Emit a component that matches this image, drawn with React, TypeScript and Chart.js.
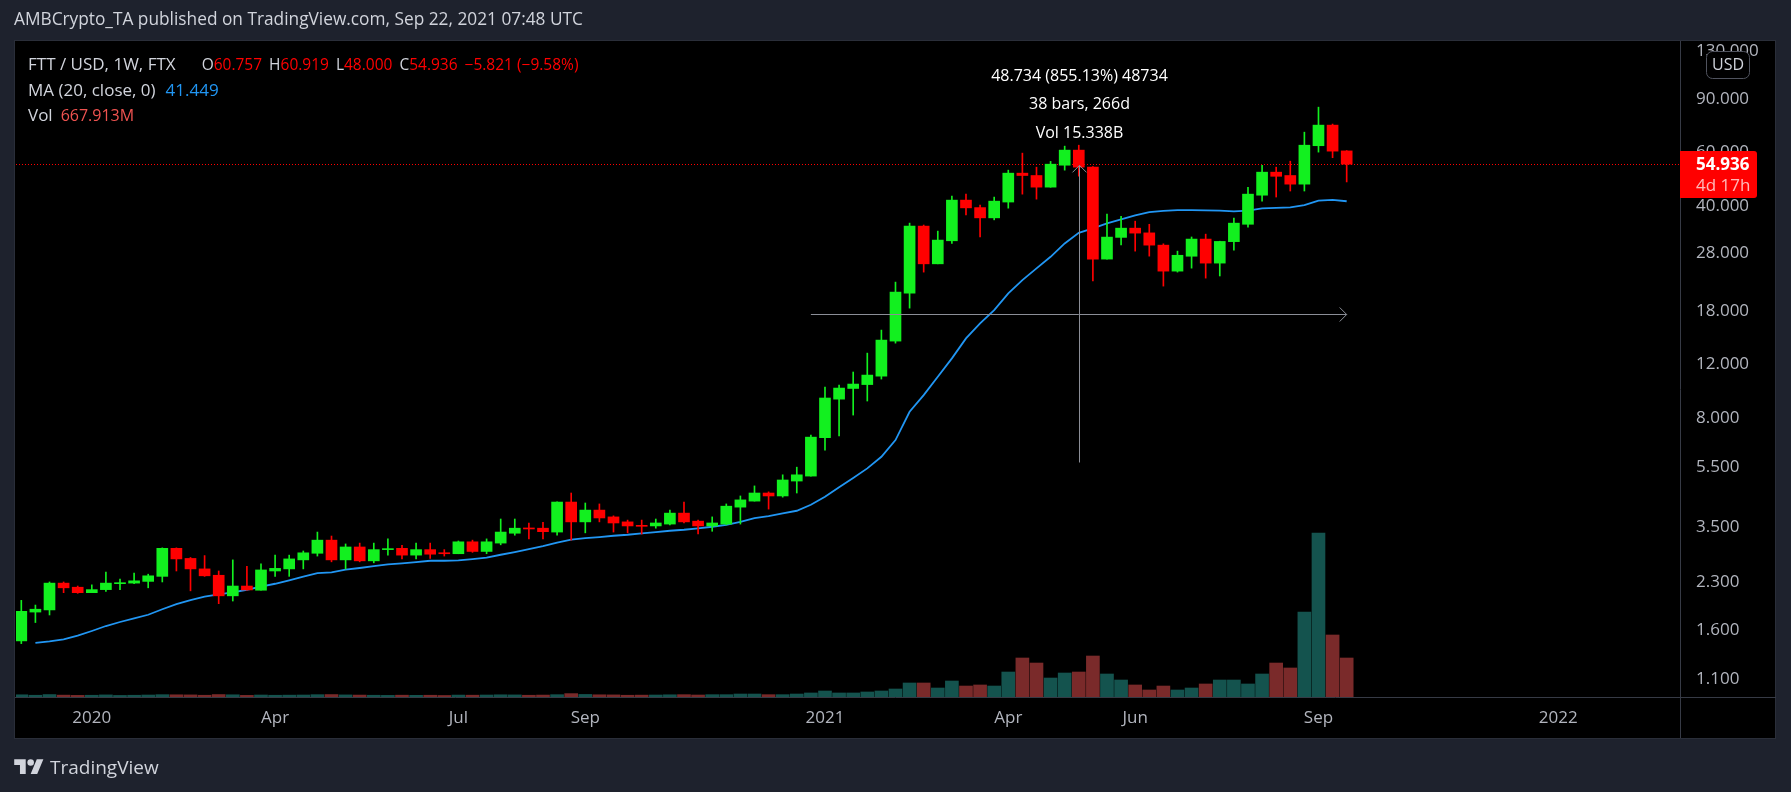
import React, { useEffect, useRef } from 'react';
import { Chart, registerables } from 'chart.js';

Chart.register(...registerables);

// ---- data (weekly candles FTT/USD, FTX, first week starting 2019-12-02) ----
const opens = [
  1.47, 1.83, 1.86, 2.28, 2.21, 2.12, 2.17, 2.27, 2.28, 2.31,
  2.40, 2.97, 2.75, 2.54, 2.42, 2.07, 2.23, 2.16, 2.50, 2.54,
  2.72, 2.86, 3.16, 2.72, 3.00, 2.70, 2.94, 2.97, 2.82, 2.94,
  2.86, 2.85, 3.12, 2.90, 3.09, 3.33, 3.46, 3.46, 3.36, 4.22,
  3.63, 3.97, 3.77, 3.63, 3.53, 3.52, 3.57, 3.88, 3.65, 3.52,
  3.57, 4.06, 4.25, 4.52, 4.42, 4.95, 5.14, 6.88, 9.22, 10.0,
  10.3, 10.98, 14.33, 20.63, 34.32, 25.77, 30.7, 41.81, 39.5, 36.54,
  41.2, 51.31, 50.4, 46.14, 54.5, 61.12, 53.7, 26.71, 31.5, 33.79,
  32.6, 29.70, 24.38, 27.3, 31.1, 25.91, 30.5, 34.8, 43.4, 51.7,
  50.4, 47.2, 63.2, 73.9, 60.757,
];
const highs = [
  2.00, 1.93, 2.30, 2.30, 2.23, 2.25, 2.48, 2.35, 2.46, 2.44,
  2.98, 2.98, 2.77, 2.81, 2.50, 2.72, 2.59, 2.64, 2.82, 2.82,
  2.91, 3.36, 3.26, 3.07, 3.09, 3.09, 3.19, 3.04, 3.09, 3.09,
  2.94, 3.14, 3.16, 3.19, 3.71, 3.71, 3.60, 3.62, 4.23, 4.52,
  4.19, 4.16, 3.80, 3.68, 3.68, 3.71, 3.97, 4.22, 3.68, 3.77,
  4.16, 4.42, 4.77, 4.56, 5.19, 5.50, 7.02, 10.11, 10.27, 11.33,
  13.08, 15.58, 22.43, 35.11, 34.6, 33.04, 43.09, 43.75, 40.25, 42.78,
  52.5, 59.74, 53.7, 56.1, 63.0, 63.45, 53.9, 37.58, 37.0, 35.63,
  34.8, 30.0, 28.38, 31.6, 32.29, 30.6, 36.46, 46.1, 54.5, 53.7,
  56.2, 70.05, 84.7, 74.5, 60.919,
];
const lows = [
  1.44, 1.69, 1.79, 2.12, 2.11, 2.12, 2.14, 2.17, 2.27, 2.20,
  2.30, 2.50, 2.15, 2.40, 1.95, 1.99, 2.16, 2.16, 2.40, 2.40,
  2.54, 2.80, 2.68, 2.54, 2.68, 2.66, 2.82, 2.74, 2.74, 2.75,
  2.80, 2.85, 2.88, 2.85, 3.05, 3.28, 3.19, 3.19, 3.28, 3.16,
  3.34, 3.63, 3.36, 3.34, 3.31, 3.46, 3.55, 3.60, 3.31, 3.38,
  3.55, 3.57, 4.25, 4.00, 4.38, 4.52, 5.14, 6.26, 6.97, 8.17,
  9.09, 10.74, 14.11, 18.41, 24.20, 25.77, 30.1, 37.38, 31.64, 35.99,
  39.33, 43.75, 42.12, 46.1, 52.5, 50.15, 22.65, 26.71, 29.77, 28.38,
  27.32, 21.76, 24.2, 24.94, 23.12, 23.5, 28.6, 34.05, 41.5, 42.8,
  44.8, 44.8, 60.2, 57.7, 48.0,
];
const closes = [
  1.84, 1.87, 2.28, 2.20, 2.12, 2.17, 2.28, 2.285, 2.32, 2.41,
  2.97, 2.74, 2.54, 2.41, 2.07, 2.23, 2.165, 2.52, 2.55, 2.74,
  2.87, 3.16, 2.72, 3.00, 2.70, 2.94, 2.96, 2.82, 2.94, 2.84,
  2.85, 3.12, 2.90, 3.12, 3.36, 3.46, 3.44, 3.37, 4.22, 3.63,
  3.97, 3.74, 3.60, 3.52, 3.51, 3.60, 3.88, 3.63, 3.52, 3.60,
  4.09, 4.29, 4.52, 4.42, 4.99, 5.19, 6.91, 9.30, 10.03, 10.34,
  11.07, 14.44, 20.79, 34.32, 25.77, 30.86, 41.81, 39.42, 36.54, 41.48,
  51.31, 50.4, 46.14, 54.93, 61.12, 53.7, 26.71, 31.57, 33.79, 32.54,
  29.70, 24.38, 27.5, 31.1, 25.91, 30.55, 35.1, 43.75, 51.7, 50.1,
  47.2, 63.45, 73.9, 60.65, 54.936,
];
// weekly volume, millions USD
const volumesM = [
  38, 30, 42, 32, 28, 30, 36, 27, 30, 34,
  40, 38, 36, 30, 42, 38, 28, 34, 30, 32,
  34, 40, 42, 36, 33, 30, 28, 31, 29, 30,
  26, 33, 31, 34, 38, 36, 30, 33, 40, 58,
  44, 38, 36, 30, 32, 34, 38, 40, 34, 40,
  40, 51, 51, 40, 40, 51, 69, 103, 69, 69,
  86, 103, 137, 240, 240, 154, 274, 188, 206, 188,
  428, 668, 582, 325, 411, 428, 702, 394, 291, 206,
  120, 188, 120, 154, 223, 291, 291, 223, 394, 582,
  497, 1456, 2809, 1062, 667.913,
];
// MA (20, close) as plotted
const ma20 = [
  null, 1.449, 1.465, 1.488, 1.529, 1.585, 1.646, 1.697, 1.745, 1.793,
  1.869, 1.945, 2.005, 2.056, 2.094, 2.126, 2.168, 2.218, 2.269, 2.329,
  2.393, 2.461, 2.474, 2.524, 2.557, 2.596, 2.630, 2.650, 2.676, 2.702,
  2.702, 2.710, 2.737, 2.765, 2.828, 2.887, 2.953, 3.021, 3.103, 3.170,
  3.210, 3.235, 3.267, 3.292, 3.327, 3.360, 3.394, 3.419, 3.456, 3.498,
  3.551, 3.633, 3.737, 3.795, 3.873, 3.950, 4.134, 4.393, 4.718, 5.063,
  5.450, 5.952, 6.758, 8.377, 9.510, 10.93, 12.57, 14.63, 16.39, 18.13,
  20.58, 22.77, 24.89, 27.18, 30.09, 32.61, 33.72, 35.02, 36.10, 37.21,
  38.16, 38.54, 38.75, 38.75, 38.69, 38.60, 38.37, 38.60, 39.25, 39.40,
  39.55, 40.25, 41.65, 41.90, 41.449,
];
const priceTicks = [1.1, 1.6, 2.3, 3.5, 5.5, 8, 12, 18, 28, 40, 60, 90, 130];
const timeTickBars = [5, 18, 31, 40, 57, 70, 79, 92, 109];
const timeTickLabels = ['2020', 'Apr', 'Jul', 'Sep', '2021', 'Apr', 'Jun', 'Sep', '2022'];
const measureFromBar = 56;
const measureToBar = 94;
const measureFromPrice = 5.699;
const measureToPrice = 54.433;
const measureLabels = ['48.734 (855.13%) 48734', '38 bars, 266d', 'Vol 15.338B'];
const countdown = '4d 17h';

// ---- style ----
const FONT = "'Open Sans', 'Noto Sans', sans-serif";
const UP = '#12f01f';
const DOWN = '#ff0000';
const VOL_UP = '#14534e';
const VOL_DOWN = '#7a2a2a';
const MA_COLOR = '#2196f3';
const AXIS_TEXT = '#b2b5be';
const TEXT = '#d1d4dc';
const OUTER = '#1e222d';

const W = 1791;
const H = 792;

const last = closes.length - 1;
const isUp = (i: number) => closes[i] >= opens[i];

const decorPlugin = {
  id: 'tvDecor',
  beforeDraw(chart: any) {
    const { ctx, chartArea: ca } = chart;
    ctx.save();
    ctx.fillStyle = '#000000';
    ctx.fillRect(14, 40, 1762, 699);
    ctx.strokeStyle = '#2a2e39';
    ctx.lineWidth = 1;
    ctx.strokeRect(14.5, 40.5, 1761, 698);
    ctx.strokeStyle = '#363a45';
    ctx.beginPath();
    ctx.moveTo(Math.round(ca.right) + 0.5, 41);
    ctx.lineTo(Math.round(ca.right) + 0.5, 738);
    ctx.moveTo(15, Math.round(ca.bottom) + 0.5);
    ctx.lineTo(1776, Math.round(ca.bottom) + 0.5);
    ctx.stroke();
    ctx.restore();
  },
  beforeDatasetsDraw(chart: any) {
    const { ctx, chartArea: ca, scales } = chart;
    const y = Math.round(scales.y.getPixelForValue(closes[last])) + 0.5;
    ctx.save();
    ctx.strokeStyle = DOWN;
    ctx.lineWidth = 1;
    ctx.setLineDash([1, 2]);
    ctx.beginPath();
    ctx.moveTo(ca.left, y);
    ctx.lineTo(ca.right, y);
    ctx.stroke();
    ctx.restore();
  },
  afterDatasetsDraw(chart: any) {
    const { ctx, scales } = chart;
    const x1 = scales.x.getPixelForValue(measureFromBar);
    const x2 = scales.x.getPixelForValue(measureToBar);
    const xm = Math.round((x1 + x2) / 2) + 0.5;
    const yb = scales.y.getPixelForValue(measureFromPrice);
    const yt = scales.y.getPixelForValue(measureToPrice);
    const ym = Math.round((yb + yt) / 2) + 0.5;
    ctx.save();
    ctx.strokeStyle = '#8b8e97';
    ctx.lineWidth = 1;
    ctx.beginPath();
    ctx.moveTo(xm, yt);
    ctx.lineTo(xm, yb);
    ctx.moveTo(x1, ym);
    ctx.lineTo(x2, ym);
    ctx.moveTo(x2 - 7, ym - 7);
    ctx.lineTo(x2, ym);
    ctx.lineTo(x2 - 7, ym + 7);
    ctx.moveTo(xm - 7, yt + 7);
    ctx.lineTo(xm, yt);
    ctx.lineTo(xm + 7, yt + 7);
    ctx.stroke();
    ctx.fillStyle = '#ffffff';
    ctx.font = `16px ${FONT}`;
    ctx.textAlign = 'center';
    ctx.textBaseline = 'middle';
    const offs = [89, 61, 32];
    measureLabels.forEach((t, i) => ctx.fillText(t, xm, yt - offs[i]));
    ctx.restore();
  },
  afterDraw(chart: any) {
    const { ctx, chartArea: ca, scales } = chart;
    const y = scales.y.getPixelForValue(closes[last]);
    ctx.save();
    // last price badge
    ctx.fillStyle = DOWN;
    ctx.beginPath();
    ctx.roundRect(ca.right, Math.round(y) - 13, 77, 47, [0, 3, 3, 0]);
    ctx.fill();
    ctx.textAlign = 'left';
    ctx.textBaseline = 'middle';
    ctx.fillStyle = '#ffffff';
    ctx.font = `bold 17px ${FONT}`;
    ctx.fillText(closes[last].toFixed(3), ca.right + 16, y + 1);
    ctx.fillStyle = 'rgba(255,255,255,0.72)';
    ctx.font = `17px ${FONT}`;
    ctx.fillText(countdown, ca.right + 16, y + 22);
    // currency badge
    ctx.fillStyle = '#000000';
    ctx.strokeStyle = '#50535e';
    ctx.lineWidth = 1;
    ctx.beginPath();
    ctx.roundRect(ca.right + 26.5, 51.5, 43, 27, 6);
    ctx.fill();
    ctx.stroke();
    ctx.fillStyle = TEXT;
    ctx.font = `16px ${FONT}`;
    ctx.textAlign = 'center';
    ctx.fillText('USD', ca.right + 48, 65.5);
    ctx.restore();
  },
};

export default function App() {
  const ref = useRef<HTMLCanvasElement | null>(null);

  useEffect(() => {
    document.body.style.margin = '0';
    const canvas = ref.current;
    if (!canvas) return;
    const chart = new Chart(canvas, {
      type: 'bar',
      data: {
        datasets: [
          {
            type: 'bar',
            label: 'Vol',
            yAxisID: 'yv',
            data: volumesM.map((v, i) => ({ x: i, y: v })) as any,
            backgroundColor: volumesM.map((_, i) => (isUp(i) ? VOL_UP : VOL_DOWN)),
            barThickness: 13,
            grouped: false,
            borderWidth: 0,
            order: 10,
          } as any,
          {
            type: 'line',
            label: 'MA (20, close, 0)',
            yAxisID: 'y',
            data: ma20.map((v, i) => ({ x: i, y: v })) as any,
            borderColor: MA_COLOR,
            borderWidth: 1.8,
            pointRadius: 0,
            tension: 0,
            spanGaps: false,
            order: 8,
          } as any,
          {
            type: 'bar',
            label: 'wick',
            yAxisID: 'y',
            data: lows.map((l, i) => ({ x: i, y: [l, highs[i]] })) as any,
            backgroundColor: lows.map((_, i) => (isUp(i) ? UP : DOWN)),
            barThickness: 1,
            grouped: false,
            borderWidth: 0,
            minBarLength: 1,
            order: 2,
          } as any,
          {
            type: 'bar',
            label: 'FTT / USD',
            yAxisID: 'y',
            data: opens.map((o, i) => ({ x: i, y: [o, closes[i]] })) as any,
            backgroundColor: opens.map((_, i) => (isUp(i) ? UP : DOWN)),
            barThickness: 11,
            grouped: false,
            borderWidth: 0,
            minBarLength: 1,
            order: 1,
          } as any,
        ],
      },
      options: {
        responsive: false,
        devicePixelRatio: 1,
        animation: false,
        events: [],
        layout: { padding: { left: 16, right: 15, top: 41, bottom: 54 } },
        plugins: { legend: { display: false }, tooltip: { enabled: false } },
        scales: {
          x: {
            type: 'linear',
            offset: false,
            min: -0.376,
            max: 117.64,
            grid: { display: false, drawTicks: false, offset: false },
            border: { display: false },
            afterBuildTicks: (s: any) => {
              s.ticks = timeTickBars.map((v) => ({ value: v }));
            },
            afterFit: (s: any) => {
              s.height = 41;
            },
            ticks: {
              autoSkip: false,
              maxRotation: 0,
              padding: 11,
              color: AXIS_TEXT,
              font: { family: FONT, size: 17 },
              callback: (_v: any, idx: number) => timeTickLabels[idx] ?? '',
            },
          },
          y: {
            type: 'logarithmic',
            position: 'right',
            min: 0.96,
            max: 140,
            grid: { display: false, drawTicks: false },
            border: { display: false },
            afterBuildTicks: (s: any) => {
              s.ticks = priceTicks.map((v) => ({ value: v }));
            },
            afterFit: (s: any) => {
              s.width = 96;
            },
            ticks: {
              autoSkip: false,
              padding: 16,
              color: AXIS_TEXT,
              font: { family: FONT, size: 17 },
              callback: (v: any) => Number(v).toFixed(3),
            },
          },
          yv: {
            type: 'linear',
            display: false,
            min: 0,
            max: 11237,
          },
        },
      } as any,
      plugins: [decorPlugin],
    });
    return () => chart.destroy();
  }, []);

  const chg = closes[last] - opens[last];
  const pct = (chg / opens[last]) * 100;
  const sgn = (v: number) => (v < 0 ? '\u2212' : '+') + Math.abs(v).toFixed(3);
  const red = { color: DOWN };
  const row = { position: 'absolute' as const, left: 28, lineHeight: '22px', fontSize: 15.5, color: TEXT, whiteSpace: 'pre' as const };

  return (
    <div
      style={{
        position: 'fixed',
        left: 0,
        top: 0,
        width: W,
        height: H,
        background: OUTER,
        overflow: 'hidden',
        fontFamily: FONT,
      }}
    >
      <canvas ref={ref} width={W} height={H} style={{ position: 'absolute', left: 0, top: 0, width: W, height: H }} />
      <div style={{ position: 'absolute', left: 14, top: 8, lineHeight: '22px', fontSize: 17.3, color: TEXT, whiteSpace: 'pre' }}>
        AMBCrypto_TA published on TradingView.com, Sep 22, 2021 07:48 UTC
      </div>
      <div style={{ ...row, top: 53 }}>
        <span style={{ fontSize: 17 }}>FTT / USD, 1W, FTX</span>
        <span style={{ marginLeft: 26 }}>O</span>
        <span style={red}>{opens[last].toFixed(3)}</span>
        <span style={{ marginLeft: 7 }}>H</span>
        <span style={red}>{highs[last].toFixed(3)}</span>
        <span style={{ marginLeft: 7 }}>L</span>
        <span style={red}>{lows[last].toFixed(3)}</span>
        <span style={{ marginLeft: 7 }}>C</span>
        <span style={red}>{closes[last].toFixed(3)}</span>
        <span style={{ ...red, marginLeft: 7 }}>{sgn(chg)} ({(pct < 0 ? '\u2212' : '+') + Math.abs(pct).toFixed(2)}%)</span>
      </div>
      <div style={{ ...row, top: 79 }}>
        <span style={{ fontSize: 17 }}>MA (20, close, 0)</span>
        <span style={{ marginLeft: 10, color: MA_COLOR, fontSize: 17 }}>{(ma20[last] as number).toFixed(3)}</span>
      </div>
      <div style={{ ...row, top: 104 }}>
        <span style={{ fontSize: 17 }}>Vol</span>
        <span style={{ marginLeft: 8, color: '#ef5350', fontSize: 16 }}>{volumesM[last].toFixed(3)}M</span>
      </div>
      <svg
        viewBox="0 0 36 28"
        width={30}
        height={23}
        style={{ position: 'absolute', left: 14, top: 756 }}
        fill={TEXT}
      >
        <path d="M14 22H7V11H0V4h14v18zM28 22h-8l7.5-18h8L28 22z" />
        <circle cx="20" cy="8" r="4" />
      </svg>
      <div style={{ position: 'absolute', left: 50, top: 755, lineHeight: '24px', fontSize: 19, color: TEXT, whiteSpace: 'pre' }}>
        TradingView
      </div>
    </div>
  );
}
